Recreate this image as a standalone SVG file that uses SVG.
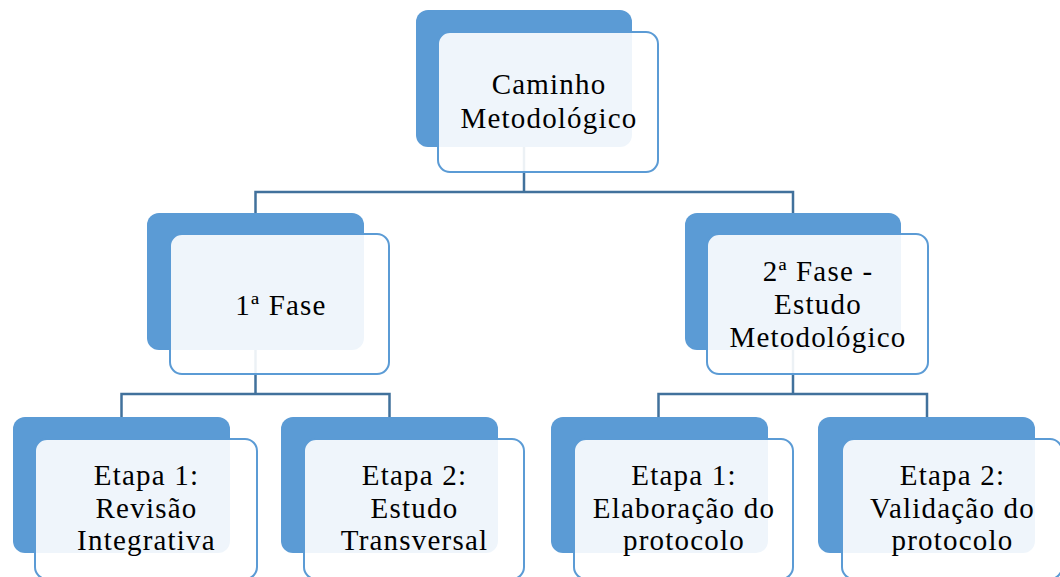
<svg xmlns="http://www.w3.org/2000/svg" width="1060" height="577" viewBox="0 0 1060 577">
<style>
.back{fill:#5B9BD5;}
.front{fill:#FFFFFF;fill-opacity:0.9;stroke:#5B9BD5;stroke-width:2;}
.conn{fill:none;stroke:#41719C;stroke-width:2.5;}
</style>
<rect width="1060" height="577" fill="#FFFFFF"/>
<g id="connectors">
<path class="conn" d="M524,147 V192 M255.5,213 V192 H793 V213"/>
<path class="conn" d="M255.5,350 V394 M121.5,417 V394 H389.5 V417"/>
<path class="conn" d="M793,350 V394 M658.5,417 V394 H927 V417"/>
</g>
<g id="nodes" font-family="Liberation Serif, Times New Roman, serif" font-size="29" fill="#000000" text-anchor="middle" letter-spacing="1.2">
<g id="n_caminho">
<rect class="back" x="416" y="10" width="216" height="137" rx="12"/>
<rect class="front" x="438" y="32" width="220" height="140" rx="12"/>
<text x="549" y="94">Caminho</text>
<text x="549" y="128">Metodológico</text>
</g>
<g id="n_fase1">
<rect class="back" x="147" y="213" width="217" height="137" rx="12"/>
<rect class="front" x="170" y="234" width="219" height="140" rx="12"/>
<text x="281" y="315">1ª Fase</text>
</g>
<g id="n_fase2">
<rect class="back" x="685" y="213" width="216" height="137" rx="12"/>
<rect class="front" x="707" y="234" width="221" height="140" rx="12"/>
<text x="818" y="281">2ª Fase -</text>
<text x="818" y="314">Estudo</text>
<text x="818" y="347">Metodológico</text>
</g>
<g id="n_etapa1a">
<rect class="back" x="13" y="417" width="217" height="136" rx="12"/>
<rect class="front" x="35" y="439" width="222" height="140" rx="12"/>
<text x="146.5" y="485">Etapa 1:</text>
<text x="146.5" y="518">Revisão</text>
<text x="146.5" y="550">Integrativa</text>
</g>
<g id="n_etapa2a">
<rect class="back" x="281" y="417" width="217" height="136" rx="12"/>
<rect class="front" x="304" y="439" width="220" height="140" rx="12"/>
<text x="414.5" y="485">Etapa 2:</text>
<text x="414.5" y="518">Estudo</text>
<text x="414.5" y="550">Transversal</text>
</g>
<g id="n_etapa1b">
<rect class="back" x="551" y="417" width="217" height="136" rx="12"/>
<rect class="front" x="574" y="439" width="219" height="140" rx="12"/>
<text x="684" y="485">Etapa 1:</text>
<text x="684" y="518">Elaboração do</text>
<text x="684" y="550">protocolo</text>
</g>
<g id="n_etapa2b">
<rect class="back" x="818" y="417" width="217" height="136" rx="12"/>
<rect class="front" x="842" y="439" width="220" height="140" rx="12"/>
<text x="952.5" y="485">Etapa 2:</text>
<text x="952.5" y="518">Validação do</text>
<text x="952.5" y="550">protocolo</text>
</g>
</g>
</svg>
